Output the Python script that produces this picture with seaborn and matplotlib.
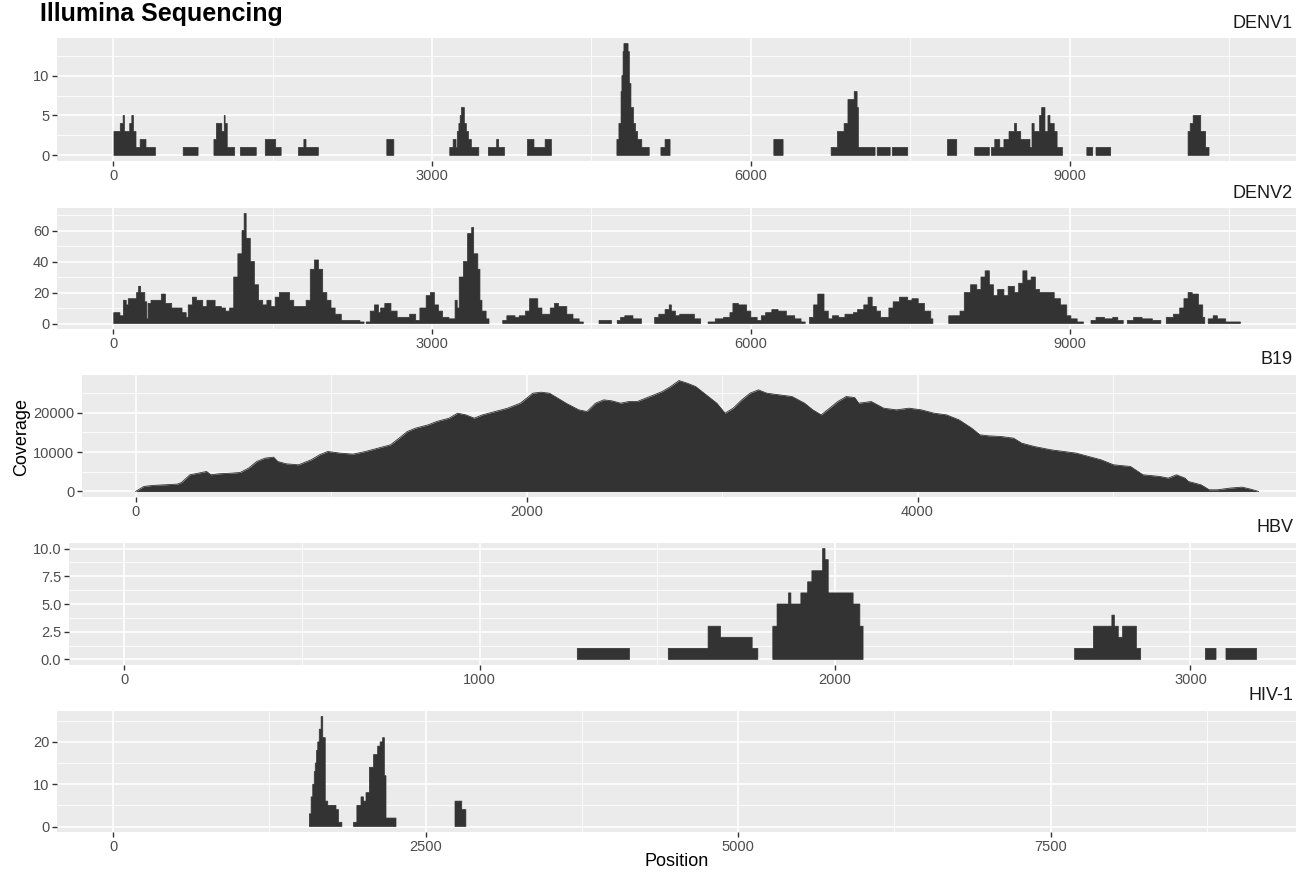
import numpy as np
import matplotlib
matplotlib.use("Agg")
import matplotlib.pyplot as plt
import seaborn as sns
from matplotlib.ticker import FixedLocator, FormatStrFormatter

# ---------------------------------------------------------------------------
# Coverage profiles (position where a level starts, coverage from there on)
# ---------------------------------------------------------------------------
denv1_pos = [9, 68, 95, 107, 157, 177, 192, 216, 255, 310, 399,
             660, 800,
             949, 972, 1023, 1046, 1054, 1074, 1144,
             1198, 1347,
             1432, 1530, 1581,
             1744, 1795, 1815, 1931,
             2575, 2641,
             3167, 3199, 3226, 3238, 3253, 3265, 3277, 3304, 3323, 3343, 3370, 3440,
             3530, 3608, 3627, 3682,
             3897, 3959, 4064, 4123,
             4739, 4758, 4778, 4786, 4797, 4805, 4844, 4856, 4871, 4895, 4914, 4934, 4973, 5043,
             5153, 5192, 5239,
             6215, 6302,
             6754, 6813, 6876, 6912, 6971, 6998, 7010, 7167, 7187, 7309, 7329, 7474,
             7848, 7935,
             8104, 8242,
             8261, 8293, 8340, 8379, 8427, 8478, 8498, 8537, 8624, 8643, 8663, 8714,
             8734, 8765, 8793, 8812, 8852, 8879, 8930,
             9159, 9214, 9245, 9383,
             10111, 10131, 10159, 10230, 10276, 10308]
denv1_cov = [3, 4, 5, 3, 4, 5, 3, 1, 2, 1, 0,
             1, 0,
             2, 4, 3, 5, 4, 1, 0,
             1, 0,
             2, 1, 0,
             1, 2, 1, 0,
             2, 0,
             1, 2, 1, 3, 4, 5, 6, 4, 3, 2, 1, 0,
             1, 2, 1, 0,
             2, 1, 2, 0,
             2, 4, 8, 10, 13, 14, 13, 9, 6, 4, 3, 2, 1, 0,
             1, 2, 0,
             2, 0,
             1, 3, 4, 7, 8, 6, 1, 0, 1, 0, 1, 0,
             2, 0,
             1, 0,
             1, 2, 1, 2, 3, 4, 3, 2, 1, 4, 3, 5,
             6, 3, 5, 4, 3, 1, 0,
             1, 0, 1, 0,
             3, 4, 5, 3, 1, 0]

denv2_pos = [7, 65, 97, 124, 143, 221, 240, 260, 299, 318, 330, 357, 454, 493, 552,
             649, 688, 707, 746, 785, 844, 883, 960, 1019, 1058, 1096, 1135, 1174,
             1213, 1233, 1252, 1291, 1330, 1369, 1408, 1447, 1486, 1525, 1564, 1661,
             1700, 1816, 1855, 1894, 1933, 1972, 2011, 2050, 2089, 2147, 2322, 2361,
             2381, 2419, 2458, 2497, 2517, 2556, 2614, 2672, 2789, 2847, 2886, 2945,
             2984, 3023, 3061, 3100, 3159, 3217, 3237, 3256, 3295, 3334, 3373, 3392,
             3431, 3451, 3470, 3509, 3536,
             3665, 3704, 3781, 3820, 3879, 3917, 3995, 4034, 4112, 4151, 4190, 4268,
             4326, 4384, 4423,
             4571, 4688,
             4742, 4774, 4813, 4890, 4970,
             5094, 5133, 5192, 5231, 5251, 5290, 5330, 5468, 5527,
             5597, 5664, 5743, 5802, 5830, 5881, 5959, 5999, 6058, 6097, 6137, 6196,
             6255, 6333, 6412, 6471, 6510,
             6550, 6589, 6628, 6687, 6727, 6766, 6825, 6884, 6963, 7002, 7061, 7101,
             7140, 7179, 7219, 7297, 7337, 7396, 7474, 7514, 7573, 7632, 7691, 7711,
             7860, 7966, 8006, 8065, 8124, 8163, 8202, 8242, 8281, 8320, 8379, 8419,
             8478, 8517, 8557, 8596, 8635, 8675, 8714, 8852, 8911, 8970, 9009, 9068, 9127,
             9198, 9245, 9324, 9403, 9450, 9501,
             9540, 9599, 9678, 9776, 9855,
             9906, 9973, 10032, 10072, 10111, 10150, 10209, 10249, 10268,
             10300, 10347, 10386, 10465, 10603]
denv2_cov = [7, 5, 15, 12, 16, 20, 24, 20, 14, 3, 13, 15, 19, 13, 10,
             7, 4, 12, 17, 15, 11, 15, 11, 10, 8, 10, 30, 45,
             60, 71, 55, 40, 25, 15, 12, 15, 11, 17, 20, 15,
             11, 15, 35, 41, 35, 20, 15, 10, 6, 2, 1, 0,
             1, 8, 12, 7, 10, 13, 8, 4, 6, 2, 10, 18,
             20, 12, 8, 4, 3, 15, 10, 30, 40, 58, 62, 45,
             35, 15, 8, 3, 0,
             2, 5, 4, 5, 8, 16, 10, 6, 10, 13, 11, 6,
             3, 1, 0,
             2, 0,
             2, 4, 5, 3, 0,
             4, 6, 9, 12, 8, 5, 6, 3, 0,
             1, 3, 4, 7, 13, 12, 8, 4, 2, 5, 7, 9,
             8, 5, 3, 1, 0,
             4, 12, 19, 8, 3, 5, 4, 6, 7, 9, 12, 17,
             11, 8, 4, 10, 14, 17, 15, 16, 13, 8, 3, 0,
             5, 8, 20, 25, 22, 30, 34, 25, 18, 22, 18, 24,
             20, 26, 34, 28, 30, 22, 20, 16, 12, 5, 3, 1, 0,
             2, 4, 3, 4, 2, 0,
             2, 4, 3, 2, 0,
             4, 6, 10, 16, 20, 19, 12, 4, 0,
             3, 5, 3, 1, 0]

b19_pos = [0, 42, 86, 150, 214, 235, 278, 321, 363, 385, 427, 492, 535, 578, 620,
           662, 706, 727, 770, 834, 898, 941, 983, 1047, 1112, 1176, 1240, 1304,
           1348, 1390, 1432, 1497, 1540, 1604, 1647, 1689, 1732, 1775, 1839, 1903,
           1968, 2032, 2074, 2117, 2160, 2202, 2267, 2309, 2353, 2395, 2437, 2481,
           2523, 2566, 2609, 2652, 2694, 2737, 2780, 2822, 2865, 2908, 2973, 3015,
           3057, 3101, 3143, 3186, 3229, 3293, 3358, 3422, 3464, 3507, 3550, 3592,
           3635, 3678, 3699, 3763, 3827, 3892, 3956, 4020, 4084, 4148, 4212, 4277,
           4319, 4363, 4427, 4491, 4533, 4597, 4683, 4748, 4812, 4875, 4939, 5003,
           5089, 5153, 5239, 5282, 5324, 5368, 5385, 5450, 5492, 5535, 5597, 5660,
           5703, 5745]
b19_cov = [0, 1270, 1525, 1694, 1863, 2287, 4235, 4659, 5082, 4235, 4489, 4659,
           4828, 5929, 7623, 8470, 8724, 7623, 7030, 6776, 8047, 9317, 10164, 9741,
           9486, 10164, 11011, 11858, 13552, 15246, 16093, 16940, 17787, 18634,
           19905, 19481, 18634, 19481, 20328, 21175, 22446, 24987, 25241, 24987,
           23716, 22446, 20752, 20328, 22446, 23293, 23038, 22446, 22869, 22869,
           23716, 24563, 25410, 26681, 28206, 27528, 26681, 24987, 22446, 19905,
           21175, 23293, 24987, 25834, 24987, 24563, 24140, 22446, 20752, 19481,
           21175, 22869, 24140, 23886, 22446, 22869, 21175, 20752, 21175, 20752,
           19905, 19481, 18211, 16093, 14399, 14145, 13976, 13552, 12282, 11435,
           10588, 10164, 9741, 8894, 8047, 6776, 6353, 4235, 3812, 3388, 4235,
           3388, 2541, 1694, 424, 424, 847, 1101, 593, 0]

hbv_pos = [1275, 1422,
           1531, 1643, 1678, 1767, 1783,
           1825, 1837, 1869, 1876, 1904, 1923, 1935, 1965, 1972, 1981, 2051, 2070, 2079,
           2674, 2727, 2779, 2786, 2797, 2809, 2848, 2860,
           3042, 3072,
           3100, 3186]
hbv_cov = [1, 0,
           1, 3, 2, 1, 0,
           3, 5, 6, 5, 6, 7, 8, 10, 9, 6, 5, 3, 0,
           1, 3, 4, 3, 2, 3, 1, 0,
           1, 0,
           1, 0]

hiv_pos = [1571, 1585, 1598, 1610, 1618, 1628, 1638, 1650, 1665, 1678, 1698,
           1718, 1751, 1784, 1804, 1831,
           1924, 1951, 1984, 2004, 2024, 2051, 2084, 2117, 2137, 2157, 2171, 2184, 2264,
           2736, 2790, 2823]
hiv_cov = [3, 7, 10, 13, 15, 18, 20, 23, 26, 21, 6,
           5, 5, 4, 1, 0,
           1, 5, 7, 6, 8, 14, 17, 19, 20, 21, 12, 2, 0,
           6, 4, 0]

virus_names = ["DENV1", "DENV2", "B19", "HBV", "HIV-1"]

# ---------------------------------------------------------------------------
# Theme (ggplot-like grey panels)
# ---------------------------------------------------------------------------
sns.set_theme(style="darkgrid", rc={
    "axes.facecolor": "#EBEBEB",
    "figure.facecolor": "white",
    "grid.color": "white",
})
plt.rcParams["font.family"] = ["Liberation Sans", "DejaVu Sans"]

W, H = 1296, 873
fig = plt.figure(figsize=(W / 100, H / 100), dpi=100)


def panel_rect(left, top, bottom):
    return [left / W, 1 - bottom / H, (W - left) / W, (bottom - top) / H]


def covered_blocks(x, y):
    """Split a level-change profile into staircase outlines of covered runs."""
    blocks, cur = [], None
    for i in range(len(y) - 1):
        if y[i] > 0:
            if cur is None:
                cur = ([x[i]], [0.0])
            cur[0].extend([x[i], x[i + 1]])
            cur[1].extend([y[i], y[i]])
        elif cur is not None:
            cur[0].append(cur[0][-1])
            cur[1].append(0.0)
            blocks.append(cur)
            cur = None
    if cur is not None:
        cur[0].append(cur[0][-1])
        cur[1].append(0.0)
        blocks.append(cur)
    return blocks


panels = [
    dict(pos=denv1_pos, cov=denv1_cov, step=True, rect=panel_rect(57, 38, 161),
         xlim=(-527, 11126), xt=[0, 3000, 6000, 9000], xm=[1500, 4500, 7500, 10500],
         yt=[0, 5, 10], ym=[2.5, 7.5, 12.5], fmt="%d"),
    dict(pos=denv2_pos, cov=denv2_cov, step=True, rect=panel_rect(57, 208, 329),
         xlim=(-527, 11126), xt=[0, 3000, 6000, 9000], xm=[1500, 4500, 7500, 10500],
         yt=[0, 20, 40, 60], ym=[10, 30, 50, 70], fmt="%d"),
    dict(pos=b19_pos, cov=b19_cov, step=False, rect=panel_rect(82, 375, 497),
         xlim=(-274, 5936), xt=[0, 2000, 4000], xm=[1000, 3000, 5000],
         yt=[0, 10000, 20000], ym=[5000, 15000, 25000], fmt="%d"),
    dict(pos=hbv_pos, cov=hbv_cov, step=True, rect=panel_rect(69, 543, 665),
         xlim=(-155, 3297), xt=[0, 1000, 2000, 3000], xm=[500, 1500, 2500],
         yt=[0, 2.5, 5, 7.5, 10], ym=[1.25, 3.75, 6.25, 8.75], fmt="%.1f"),
    dict(pos=hiv_pos, cov=hiv_cov, step=True, rect=panel_rect(57, 711, 832),
         xlim=(-448, 9464), xt=[0, 2500, 5000, 7500], xm=[1250, 3750, 6250, 8750],
         yt=[0, 10, 20], ym=[5, 15, 25], fmt="%d"),
]

fill = "#333333"
for name, p in zip(virus_names, panels):
    ax = fig.add_axes(p["rect"])
    x = np.asarray(p["pos"], dtype=float)
    y = np.asarray(p["cov"], dtype=float)
    if p["step"]:
        for bx, by in covered_blocks(x, y):
            ax.fill(bx, by, facecolor=fill, edgecolor=fill, lw=0.5,
                    snap=False, joinstyle="miter", zorder=2)
    else:
        ax.fill_between(x, y, color=fill, lw=0, zorder=2)
        sns.lineplot(x=x, y=y, color=fill, lw=0.6, ax=ax, estimator=None,
                     sort=False, zorder=2)

    top = y.max()
    ax.set_xlim(*p["xlim"])
    ax.set_ylim(-0.05 * top, 1.05 * top)

    ax.xaxis.set_major_locator(FixedLocator(p["xt"]))
    ax.xaxis.set_minor_locator(FixedLocator(p["xm"]))
    ax.yaxis.set_major_locator(FixedLocator(p["yt"]))
    ax.yaxis.set_minor_locator(FixedLocator(p["ym"]))
    ax.yaxis.set_major_formatter(FormatStrFormatter(p["fmt"]))
    ax.xaxis.set_major_formatter(FormatStrFormatter("%d"))

    ax.grid(which="major", color="white", lw=1.2)
    ax.grid(which="minor", color="white", lw=0.6)
    ax.set_axisbelow(True)
    for s in ax.spines.values():
        s.set_visible(False)
    ax.tick_params(which="major", length=3.5, width=1.0, color="#333333",
                   labelcolor="#4D4D4D", labelsize=10.5, pad=2,
                   bottom=True, left=True)
    ax.tick_params(which="minor", length=0)
    ax.set_xlabel("")
    ax.set_ylabel("")

    top_px = (1 - p["rect"][1] - p["rect"][3]) * H
    fig.text(1293 / W, 1 - (top_px - 15) / H, name, ha="right", va="center",
             fontsize=13, color="#1A1A1A")

fig.text(40 / W, 1 - 14 / H, "Illumina Sequencing", ha="left", va="center",
         fontsize=18, fontweight="bold", color="black")
fig.text(22 / W, 1 - 437 / H, "Coverage", rotation=90, ha="center", va="center",
         fontsize=13, color="black")
fig.text(677 / W, 1 - 862 / H, "Position", ha="center", va="center",
         fontsize=13, color="black")

fig.savefig("out.png", dpi=100)
